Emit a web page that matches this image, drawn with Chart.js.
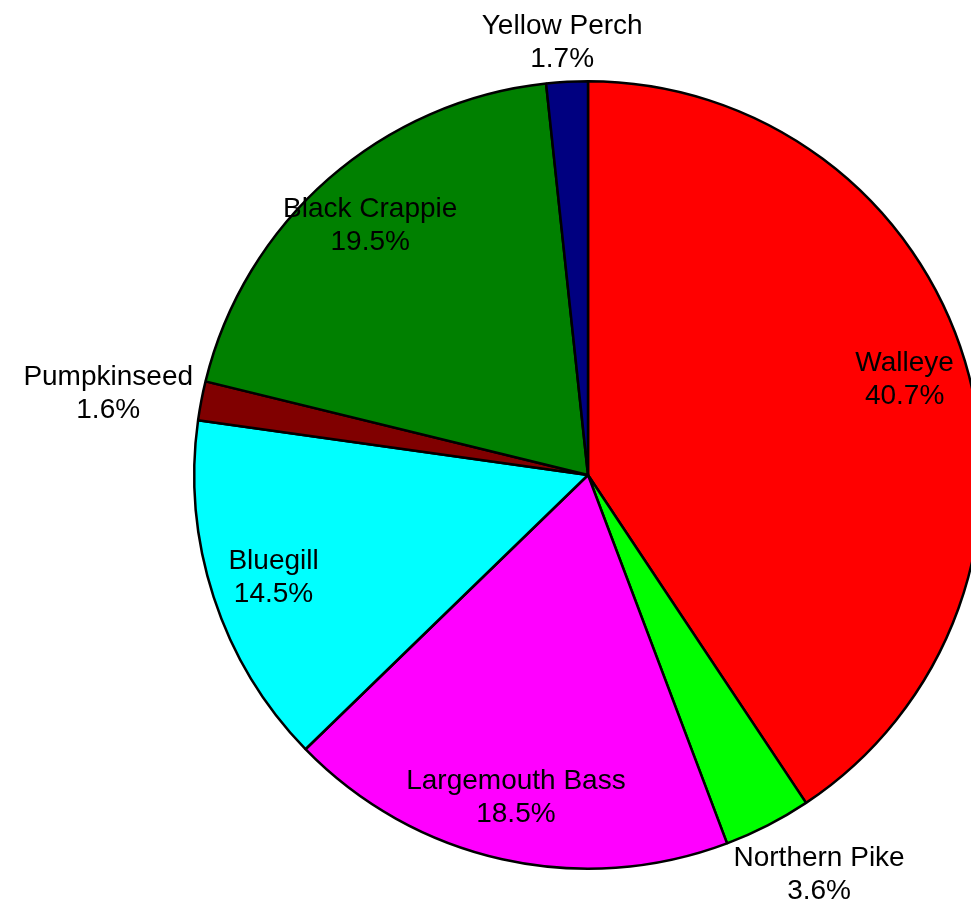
<!DOCTYPE html>
<html>
<head>
<meta charset="utf-8">
<title>Fish species composition</title>
<script src="https://cdn.jsdelivr.net/npm/chart.js@4/dist/chart.umd.min.js"></script>
<style>
  html, body { margin: 0; padding: 0; background: #fff; overflow: hidden; }
  #wrap { position: absolute; left: 0; top: 0; width: 1000px; height: 906px; }
</style>
</head>
<body>
<div id="wrap"><canvas id="pieChart" width="1000" height="906"></canvas></div>
<script>
// species and their share of the catch (percent)
var species = ["Walleye", "Northern Pike", "Largemouth Bass", "Bluegill", "Pumpkinseed", "Black Crappie", "Yellow Perch"];
var percents = [40.7, 3.6, 18.5, 14.5, 1.6, 19.5, 1.7];
var sliceColors = ["#ff0000", "#00ff00", "#ff00ff", "#00ffff", "#800000", "#008000", "#000080"];

var FONT = "28px 'Liberation Sans', Arial, sans-serif";
var LINE_H = 33;

// shortest distance from (px,py) to a box centred at (bx,by)
function distToBox(px, py, bx, by, w, h){
    var nx = Math.max(bx - w / 2, Math.min(px, bx + w / 2));
    var ny = Math.max(by - h / 2, Math.min(py, by + h / 2));
    return Math.hypot(nx - px, ny - py);
}

// writes "name / value%" on each slice, small slices get it outside the rim
var sliceLabels = {
    id: "sliceLabels",
    afterDatasetsDraw: function(chart){
        var ctx = chart.ctx;
        var meta = chart.getDatasetMeta(0);
        ctx.save();
        ctx.font = FONT;
        ctx.fillStyle = "#000";
        ctx.textAlign = "center";
        ctx.textBaseline = "middle";
        meta.data.forEach(function(arc, i){
            var p = arc.getProps(["x", "y", "startAngle", "endAngle", "outerRadius"], true);
            var mid = (p.startAngle + p.endAngle) / 2;
            var ux = Math.cos(mid), uy = Math.sin(mid);
            var lines = [species[i], percents[i].toFixed(1) + "%"];
            var w = Math.max(ctx.measureText(lines[0]).width, ctx.measureText(lines[1]).width);
            var h = LINE_H * 2 - 8;
            var cx, cy;
            if(percents[i] < 5){
                // anchor just past the rim, box leaning away from the pie
                var r = p.outerRadius + 10;
                cx = p.x + ux * r + ux * w / 2;
                cy = p.y + uy * r + uy * h / 2;
                // still touching the rim? keep nudging outward
                while(distToBox(p.x, p.y, cx, cy, w, h) < p.outerRadius + 4){
                    cx += ux;
                    cy += uy;
                }
            }
            else{
                var r2 = p.outerRadius * 0.84;
                cx = p.x + ux * r2;
                cy = p.y + uy * r2;
            }
            ctx.fillText(lines[0], cx, cy - LINE_H / 2);
            ctx.fillText(lines[1], cx, cy + LINE_H / 2);
        });
        ctx.restore();
    }
};

function drawChart(){
    const CHART = document.getElementById("pieChart");
    let pieChart = new Chart(CHART, {
        type: "pie",
        data: {
            labels: species,
            datasets: [
                {
                    data: percents,
                    backgroundColor: sliceColors,
                    borderColor: "#000",
                    borderWidth: 2.5,
                    offset: 0,
                    hoverOffset: 0
                }
            ]
        },
        options: {
            responsive: false,
            animation: false,
            devicePixelRatio: 1,
            layout: { padding: { left: 193, right: 17, top: 80, bottom: 36 } },
            plugins: {
                legend: { display: false },
                tooltip: { enabled: false }
            },
            events: []
        },
        plugins: [sliceLabels]
    });
}

drawChart();
</script>
</body>
</html>
